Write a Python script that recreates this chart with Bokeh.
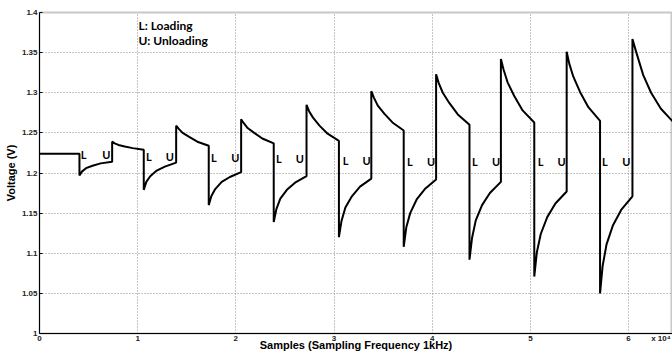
from bokeh.plotting import figure
from bokeh.models import Range1d, FixedTicker, Label, ColumnDataSource
from bokeh.embed import file_html
from bokeh.resources import INLINE
from bokeh.core.properties import value

# Samples (raw sample index, sampling frequency 1 kHz) and measured voltage
samples = [
    0, 4070,
    4070, 4340, 4740, 5400, 6230, 7400,
    7400, 7660, 8040, 8690, 9490, 10620,
    10620, 10880, 11280, 11940, 12770, 13920,
    13920, 14190, 14580, 15250, 16080, 17240,
    17240, 17500, 17900, 18560, 19390, 20540,
    20540, 20810, 21200, 21870, 22700, 23860,
    23860, 24130, 24530, 25200, 26030, 27200,
    27200, 27460, 27860, 28520, 29350, 30500,
    30500, 30760, 31160, 31820, 32650, 33800,
    33800, 34060, 34460, 35120, 35950, 37100,
    37100, 37360, 37760, 38420, 39250, 40400,
    40400, 40670, 41080, 41760, 42610, 43800,
    43800, 44060, 44440, 45080, 45880, 47000,
    47000, 47270, 47680, 48360, 49210, 50400,
    50400, 50660, 51060, 51720, 52550, 53700,
    53700, 53970, 54380, 55060, 55910, 57100,
    57100, 57360, 57760, 58420, 59250, 60400,
    60400, 60800, 61500, 62300, 63300, 64600,
]
voltage = [
    1.224, 1.224,
    1.197, 1.202, 1.206, 1.209, 1.212, 1.214,
    1.239, 1.237, 1.235, 1.233, 1.231, 1.229,
    1.179, 1.189, 1.196, 1.203, 1.208, 1.213,
    1.259, 1.255, 1.250, 1.245, 1.239, 1.234,
    1.160, 1.171, 1.180, 1.189, 1.195, 1.201,
    1.267, 1.262, 1.256, 1.250, 1.243, 1.237,
    1.139, 1.155, 1.168, 1.179, 1.188, 1.196,
    1.285, 1.277, 1.269, 1.259, 1.249, 1.240,
    1.120, 1.140, 1.157, 1.171, 1.183, 1.193,
    1.302, 1.294, 1.284, 1.274, 1.263, 1.253,
    1.108, 1.132, 1.150, 1.167, 1.180, 1.192,
    1.323, 1.312, 1.300, 1.287, 1.273, 1.260,
    1.092, 1.119, 1.141, 1.160, 1.175, 1.189,
    1.342, 1.329, 1.313, 1.296, 1.278, 1.263,
    1.071, 1.101, 1.124, 1.145, 1.162, 1.177,
    1.351, 1.336, 1.320, 1.301, 1.282, 1.265,
    1.050, 1.084, 1.111, 1.135, 1.154, 1.171,
    1.367, 1.350, 1.322, 1.300, 1.280, 1.263,
]

# L / U marker labels
load_x = [4500, 11130, 17750, 24380, 31170, 37720, 44340, 51040, 57580]
unload_x = [6800, 13270, 19960, 26520, 33310, 39900, 46520, 53170, 59790]
marker_y = [1.2225, 1.221, 1.2195, 1.218, 1.216, 1.2145, 1.2145, 1.2145, 1.2145]

x_ticks = [0, 10000, 20000, 30000, 40000, 50000, 60000]
x_tick_labels = ["0", "1", "2", "3", "4", "5", "6"]
x_scale_pos = 63300
x_scale_label = "x 10\u2074"
y_ticks = [1.0, 1.05, 1.1, 1.15, 1.2, 1.25, 1.3, 1.35, 1.4]
y_tick_labels = ["1", "1.05", "1.1", "1.15", "1.2", "1.25", "1.3", "1.35", "1.4"]

p = figure(width=672, height=354, output_backend="svg", toolbar_location=None,
           x_range=Range1d(0, 64480), y_range=Range1d(1.0, 1.4),
           min_border_left=39, min_border_right=0, min_border_top=12,
           min_border_bottom=21)
p.background_fill_color = "white"
p.border_fill_color = "white"
p.outline_line_color = "#c8c8c8"
p.outline_line_width = 2

overrides = {t: l for t, l in zip(x_ticks, x_tick_labels)}
overrides[x_scale_pos] = x_scale_label
p.xaxis.ticker = FixedTicker(ticks=x_ticks + [x_scale_pos])
p.xaxis.major_label_overrides = overrides
p.xgrid.ticker = FixedTicker(ticks=x_ticks)
p.yaxis.ticker = FixedTicker(ticks=y_ticks)
p.yaxis.major_label_overrides = {t: l for t, l in zip(y_ticks, y_tick_labels)}

for ax in (p.xaxis, p.yaxis):
    ax.axis_line_color = "black"
    ax.axis_line_width = 1
    ax.major_tick_out = 0
    ax.major_tick_line_color = "black"
    ax.minor_tick_line_color = None
    ax.major_label_text_font = "Liberation Sans"
    ax.major_label_text_font_style = "bold"
    ax.major_label_text_font_size = "8px"
    ax.major_label_text_color = "#222222"
    ax.axis_label_text_font = "Liberation Sans"
    ax.axis_label_text_font_style = "bold"
    ax.axis_label_text_font_size = "11px"
    ax.axis_label_text_color = "black"

p.xaxis.major_tick_in = 0
p.yaxis.major_tick_in = 3
p.xaxis.major_label_standoff = 0
p.xaxis.axis_label_standoff = -7
p.yaxis.major_label_standoff = 2
p.yaxis.axis_label_standoff = 2

p.xaxis.axis_label = "Samples (Sampling Frequency 1kHz)"
p.yaxis.axis_label = "Voltage (V)"

for g in (p.xgrid, p.ygrid):
    g.grid_line_color = "#8a8a8a"
    g.grid_line_dash = "1 2"
    g.grid_line_width = 1

p.line(samples, voltage, line_color="black", line_width=2)

src_l = ColumnDataSource(dict(x=load_x, y=marker_y, t=["L"] * len(load_x)))
src_u = ColumnDataSource(dict(x=unload_x, y=marker_y, t=["U"] * len(unload_x)))
for src in (src_l, src_u):
    p.text(x="x", y="y", text="t", source=src, text_font=value("Lato"),
           text_font_style="bold", text_font_size="11px", text_color="black",
           text_align="center", text_baseline="middle")

p.add_layout(Label(x=10080, y=1.3838, text="L: Loading", text_font="Lato",
                   text_font_style="bold", text_font_size="12px",
                   text_baseline="middle", text_color="black"))
p.add_layout(Label(x=10080, y=1.3650, text="U: Unloading", text_font="Lato",
                   text_font_style="bold", text_font_size="12px",
                   text_baseline="middle", text_color="black"))

open("out.html", "w").write(file_html(p, INLINE))
